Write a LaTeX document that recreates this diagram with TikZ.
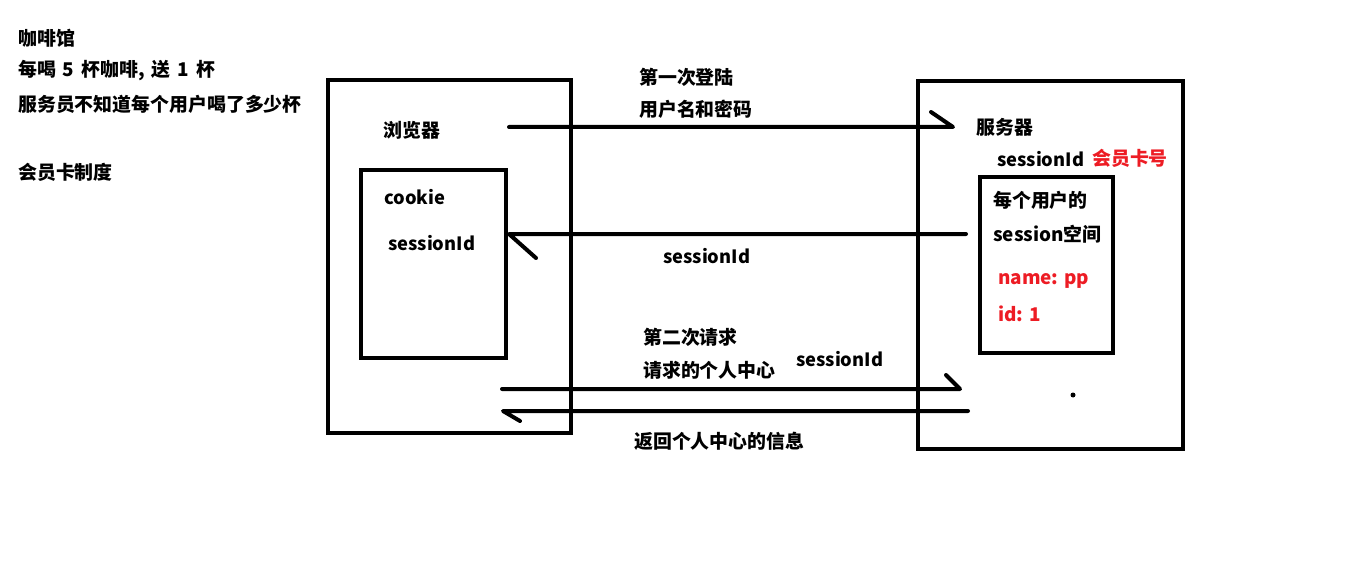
\documentclass[tikz,border=0pt]{standalone}
\usepackage{fontspec}
\setmainfont{Noto Sans CJK SC}
\definecolor{pred}{RGB}{237,28,36}
\begin{document}
\begin{tikzpicture}[x=1pt,y=-1pt,
  box/.style={draw=black,line width=4pt},
  wire/.style={draw=black,line width=4pt,line cap=round,line join=round},
  txt/.style={anchor=west,inner sep=0pt,font=\fontsize{18.9}{22}\selectfont\bfseries},
  ltxt/.style={txt,font=\fontsize{18.3}{22}\selectfont\bfseries},
  rtxt/.style={txt,text=pred}]
\useasboundingbox (0,0) rectangle (1354,564);
% boxes
\draw[box] (328,80) rectangle (571,433);
\draw[box] (361,170) rectangle (506,358);
\draw[box] (918,81) rectangle (1183,449);
\draw[box] (980,177) rectangle (1113,353);
% left notes
\node[txt] (t1) at (18,38) {咖啡馆};
\node[txt] (t2) at (18,71) {每喝\hspace{7pt}5\hspace{7pt}杯咖啡,\hspace{7pt}送\hspace{7pt}1\hspace{7pt}杯};
\node[txt] (t3) at (18,104) {服务员不知道每个用户喝了多少杯};
\node[txt] (t4) at (18,172) {会员卡制度};
% browser
\node[txt] (browser) at (383,130) {浏览器};
\node[ltxt] (cookie) at (384,197) {cookie};
\node[ltxt] (bsid) at (388,243) {sessionId};
% middle labels
\node[txt] (l1) at (639,77) {第一次登陆};
\node[txt] (l2) at (639,109) {用户名和密码};
\node[ltxt] (l3) at (663,256) {sessionId};
\node[txt] (l4) at (643,337) {第二次请求};
\node[txt] (l5) at (643,370) {请求的个人中心};
\node[ltxt] (l6) at (796,359) {sessionId};
\node[txt] (l7) at (634,441) {返回个人中心的信息};
% server
\node[txt] (server) at (976,127) {服务器};
\node[ltxt] (ssid) at (997,159) {sessionId};
\node[rtxt] (card) at (1092,158) {会员卡号};
\node[txt] (s1) at (993,200) {每个用户的};
\node[txt] (s2) at (993,234) {session空间};
\node[rtxt] (s3) at (998,281) {name: pp};
\node[rtxt] (s4) at (998,314) {id: 1};
% connector endpoints
\coordinate (a1s) at (509,127);
\coordinate (a1e) at (953,127);
\coordinate (a1b) at (931,112);
\coordinate (a2s) at (966,234);
\coordinate (a2e) at (509,234);
\coordinate (a2b) at (536,258);
\coordinate (a3s) at (502,389);
\coordinate (a3e) at (960,389);
\coordinate (a3b) at (946,375);
\coordinate (a4s) at (968,411);
\coordinate (a4e) at (503,411);
\coordinate (a4b) at (520,421);
\draw[wire] (a1s) -- (a1e) -- (a1b);
\draw[wire] (a2s) -- (a2e) -- (a2b);
\draw[wire] (a3s) -- (a3e) -- (a3b);
\draw[wire] (a4s) -- (a4e) -- (a4b);
\fill (1073,395) circle (2.5);
\end{tikzpicture}
\end{document}
